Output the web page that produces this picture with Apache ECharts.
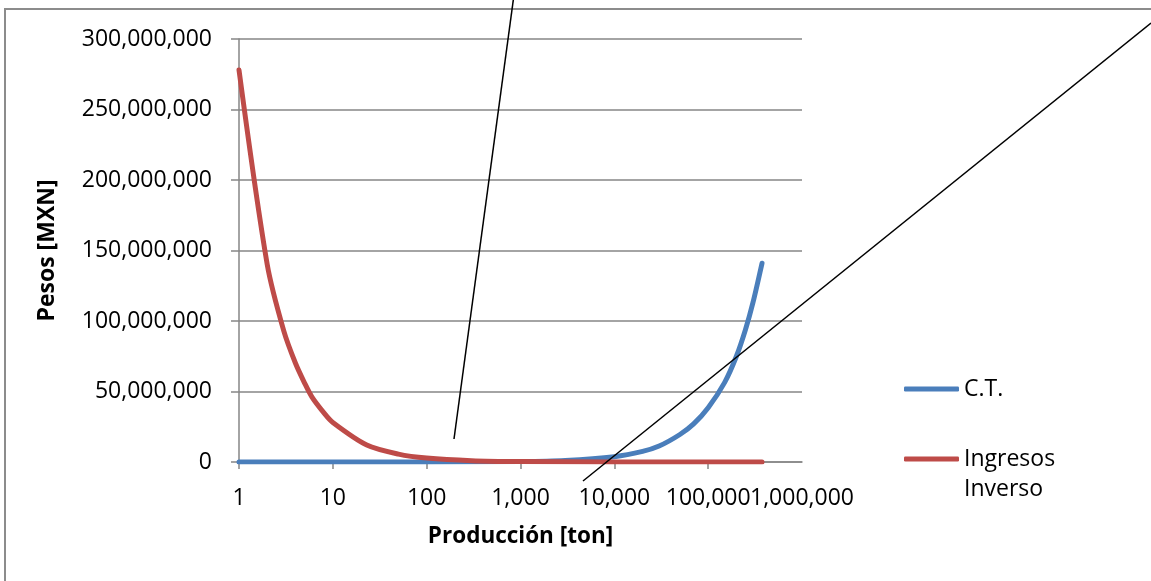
<!DOCTYPE html>
<html>
<head>
<meta charset="utf-8">
<script src="https://cdn.jsdelivr.net/npm/echarts@6/dist/echarts.min.js"></script>
<style>
html,body{margin:0;padding:0;background:#fff;}
#c{width:1151px;height:581px;}
</style>
</head>
<body>
<div id="c"></div>
<script>
// ---- data ----
const ctProduccion = [1, 10, 100, 1000, 3000, 10000, 20000, 30000, 50000, 70000, 100000, 150000, 200000, 250000, 300000, 375000];
const ctValores    = [400, 3800, 38000, 380000, 1150000, 3800000, 7500000, 11300000, 19500000, 27000000, 38500000, 56500000, 75000000, 94000000, 113000000, 141000000];

const invProduccion = [1, 2, 3, 4, 5, 6, 8, 10, 23, 50, 100, 300, 1000, 10000, 100000, 375000];
const invValores    = [278000000, 140000000, 93000000, 70000000, 56000000, 46000000, 35000000, 28000000, 12000000, 5600000, 2800000, 930000, 280000, 28000, 2800, 740];

const yTicks = [0, 50000000, 100000000, 150000000, 200000000, 250000000, 300000000];
const xTicks = [1, 10, 100, 1000, 10000, 100000, 1000000];

const seriesNames = ['C.T.', 'Ingresos Inverso'];
const xTitle = 'Producción [ton]';
const yTitle = 'Pesos [MXN]';

// ---- chart ----
const FONT = '"Open Sans", "Liberation Sans", sans-serif';
const fmt = v => Math.round(v).toLocaleString('en-US');
const xMin = xTicks[0], xMax = xTicks[xTicks.length - 1];
const chart = echarts.init(document.getElementById('c'), null, {renderer: 'canvas'});

const pair = (xs, ys) => xs.map((x, i) => [x, ys[i]]);
const xLabelStyle = {fontFamily: FONT, fontSize: 23, color: '#000', margin: 25, hideOverlap: false};

chart.setOption({
  animation: false,
  backgroundColor: '#ffffff',
  grid: {left: 239, top: 39, right: 349, bottom: 119, containLabel: false},
  xAxis: [{
    type: 'log', logBase: 10, min: xMin, max: xMax, position: 'bottom',
    name: xTitle, nameLocation: 'middle', nameGap: 63,
    nameTextStyle: {fontFamily: FONT, fontWeight: 'bold', fontSize: 22.5, color: '#000'},
    axisLine: {show: true, onZero: false, lineStyle: {color: '#868686', width: 1.5}},
    axisTick: {show: true, length: 7, inside: false, lineStyle: {color: '#868686', width: 1.5}},
    axisLabel: Object.assign({}, xLabelStyle, {showMaxLabel: false, showMinLabel: true, formatter: fmt}),
    splitLine: {show: false},
    minorTick: {show: false}
  }, {
    // second copy of the same axis, only to show the last tick label (overlaps its neighbour in the original)
    type: 'log', logBase: 10, min: xMin, max: xMax, position: 'bottom', offset: 0,
    axisLine: {show: false}, axisTick: {show: false}, splitLine: {show: false},
    axisLabel: Object.assign({}, xLabelStyle, {showMaxLabel: true, showMinLabel: false,
      formatter: v => (Math.abs(v - xMax) < 1e-6 ? fmt(v) : '')})
  }],
  yAxis: {
    type: 'value', min: 0, max: yTicks[yTicks.length - 1], interval: 50000000,
    name: yTitle, nameLocation: 'middle', nameGap: 180, nameRotate: 90,
    nameTextStyle: {fontFamily: FONT, fontWeight: 'bold', fontSize: 23, color: '#000'},
    axisLine: {show: true, lineStyle: {color: '#868686', width: 1.5}},
    axisTick: {show: true, length: 8, lineStyle: {color: '#868686', width: 1.5}},
    axisLabel: {fontFamily: FONT, fontSize: 23, color: '#000', margin: 27, formatter: fmt},
    splitLine: {show: true, lineStyle: {color: '#868686', width: 1.5}}
  },
  legend: {
    orient: 'vertical', left: 899, top: 369, itemWidth: 55, itemHeight: 5, itemGap: 10,
    icon: 'roundRect',
    textStyle: {fontFamily: FONT, fontSize: 23, color: '#000', lineHeight: 30},
    formatter: n => n === seriesNames[1] ? ' \nIngresos\nInverso' : n,
    data: seriesNames
  },
  series: [
    {
      name: seriesNames[0], type: 'line', xAxisIndex: 0, data: pair(ctProduccion, ctValores),
      smooth: 0.3, showSymbol: false, symbol: 'none',
      lineStyle: {color: '#4a7ebb', width: 5, cap: 'round', join: 'round'},
      itemStyle: {color: '#4a7ebb'}, z: 3
    },
    {
      name: seriesNames[1], type: 'line', xAxisIndex: 0, data: pair(invProduccion, invValores),
      smooth: 0.3, showSymbol: false, symbol: 'none',
      lineStyle: {color: '#be4b48', width: 5, cap: 'round', join: 'round'},
      itemStyle: {color: '#be4b48'}, z: 4
    }
  ],
  graphic: [
    {type: 'rect', shape: {x: 5, y: 9, width: 1300, height: 700},
     style: {fill: 'none', stroke: '#8c8c8c', lineWidth: 2}, silent: true, z: 0},
    {type: 'line', shape: {x1: 454, y1: 439, x2: 516, y2: -20},
     style: {stroke: '#000', lineWidth: 1.5}, silent: true, z: 10},
    {type: 'line', shape: {x1: 583, y1: 481, x2: 1151, y2: 23},
     style: {stroke: '#000', lineWidth: 1.5}, silent: true, z: 10}
  ]
});
</script>
</body>
</html>
